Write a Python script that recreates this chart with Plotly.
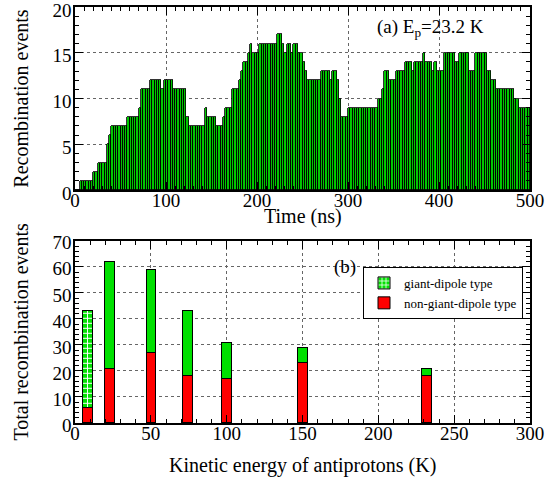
import numpy as np
import plotly.graph_objects as go

# ---- data: (a) recombination events per 2.5 ns time bin, 0-500 ns ----
bin_width_ns = 2.5
events = [
    0, 0, 1, 1, 1, 1, 1, 1, 2, 2, 3, 3, 3, 3, 5, 6, 7, 7, 7, 7,
    7, 7, 7, 8, 8, 8, 8, 8, 9, 11, 11, 11, 11, 12, 12, 12, 12, 12, 11, 12,
    12, 12, 12, 11, 11, 11, 11, 11, 11, 8, 7, 7, 7, 7, 7, 7, 7, 9, 8, 8,
    8, 8, 7, 7, 7, 8, 9, 9, 9, 11, 11, 11, 12, 13, 14, 14, 15, 16, 15, 15,
    15, 16, 16, 16, 16, 16, 16, 16, 16, 17, 17, 16, 15, 16, 16, 15, 16, 16, 15, 15,
    14, 13, 12, 12, 12, 12, 12, 12, 13, 13, 13, 13, 12, 13, 13, 12, 10, 8, 8, 8,
    9, 9, 9, 9, 9, 9, 9, 9, 9, 9, 9, 9, 9, 10, 10, 11, 13, 13, 12, 12,
    12, 13, 13, 13, 13, 14, 14, 14, 13, 14, 14, 14, 14, 15, 14, 14, 14, 13, 14, 13,
    13, 13, 15, 15, 15, 15, 15, 14, 14, 15, 15, 15, 15, 13, 13, 13, 15, 15, 15, 15,
    15, 13, 13, 12, 12, 11, 11, 11, 11, 11, 11, 11, 11, 10, 10, 9, 9, 9, 9, 9,
]
time_centers = np.arange(len(events)) * bin_width_ns + bin_width_ns / 2

# ---- data: (b) totals per antiproton kinetic energy ----
energy_K = [8.3, 23.2, 50.4, 74.3, 100.4, 150.2, 232.0]
non_giant_dipole = [6, 21, 27, 18, 17, 23, 18]
giant_dipole = [37, 41, 32, 25, 14, 6, 3]
gd_pattern = ["+", "", "", "", "", "", ""]

FONT = "Liberation Serif"
GREEN = "#00e000"

fig = go.Figure()

fig.add_trace(go.Bar(
    x=time_centers, y=events, width=bin_width_ns,
    marker=dict(color="#00c800", line=dict(color="black", width=0.8)),
    xaxis="x", yaxis="y", showlegend=False,
))

fig.add_trace(go.Bar(
    x=energy_K, y=non_giant_dipole, width=6.5, name="non-giant-dipole type",
    marker=dict(color="#ff0000", line=dict(color="black", width=1)),
    xaxis="x2", yaxis="y2",
))
fig.add_trace(go.Bar(
    x=energy_K, y=giant_dipole, width=6.5, name="giant-dipole type",
    marker=dict(color=GREEN, line=dict(color="black", width=1),
                pattern=dict(shape=gd_pattern, fgcolor="white", bgcolor=GREEN,
                             size=5, solidity=0.35, fillmode="replace")),
    xaxis="x2", yaxis="y2",
))

axis_common = dict(
    showline=True, linecolor="black", linewidth=1.5, mirror="allticks",
    ticks="inside", ticklen=8, tickwidth=1, tickcolor="black",
    showgrid=True, gridcolor="#666", griddash="dot", gridwidth=1,
    zeroline=False, automargin=False, ticklabeloverflow="allow",
    tickfont=dict(family=FONT, size=19, color="black"),
)
minor_common = dict(ticks="inside", ticklen=4, tickcolor="black", showgrid=False)
title_font = dict(family=FONT, size=20, color="black")

fig.update_layout(
    width=547, height=480,
    margin=dict(l=75, r=17, t=7, b=57, autoexpand=False),
    plot_bgcolor="white", paper_bgcolor="white",
    barmode="stack", bargap=0,
    font=dict(family=FONT, color="black"),
    xaxis=dict(domain=[0, 1], anchor="y", range=[0, 500], dtick=100,
               minor=dict(dtick=10, **minor_common), ticklabelstandoff=-8,
               **axis_common),
    yaxis=dict(domain=[0.56, 1], anchor="x", range=[0, 20], dtick=5,
               minor=dict(dtick=1, **minor_common), ticklabelstandoff=-2,
               ticklabelshift=3,
               title=dict(text="Recombination events", font=title_font, standoff=18),
               **axis_common),
    xaxis2=dict(domain=[0, 1], anchor="y2", range=[0, 300], dtick=50,
                minor=dict(dtick=10, **minor_common), ticklabelstandoff=-8,
                **axis_common),
    yaxis2=dict(domain=[0, 0.438], anchor="x2", range=[0, 70], dtick=10,
                minor=dict(dtick=2, **minor_common), ticklabelstandoff=-2,
                ticklabelshift=2,
                title=dict(text="Total recombination events", font=title_font, standoff=18),
                **axis_common),
    legend=dict(x=0.633, y=0.375, xanchor="left", yanchor="top",
                traceorder="reversed",
                bgcolor="white", bordercolor="black", borderwidth=1,
                font=dict(family=FONT, size=13, color="black"),
                tracegroupgap=0, itemwidth=30),
    annotations=[
        dict(text="Time (ns)", x=0.5, y=0.497, xref="paper", yref="paper",
             xanchor="center", yanchor="middle", showarrow=False, font=title_font),
        dict(text="Kinetic energy of antiprotons (K)", x=0.5, y=-0.101,
             xref="paper", yref="paper", xanchor="center", yanchor="middle",
             showarrow=False, font=title_font),
        dict(text="(a) E<sub>p</sub>=23.2 K", x=330, y=17.7, xref="x", yref="y",
             xanchor="left", yanchor="middle", showarrow=False,
             font=dict(family=FONT, size=19, color="black")),
        dict(text="(b)", x=178, y=60, xref="x2", yref="y2",
             xanchor="center", yanchor="middle", showarrow=False,
             font=dict(family=FONT, size=19, color="black")),
    ],
)

fig.write_html("out.html", config={"displayModeBar": False},
               post_script="document.body.style.margin='0';")
